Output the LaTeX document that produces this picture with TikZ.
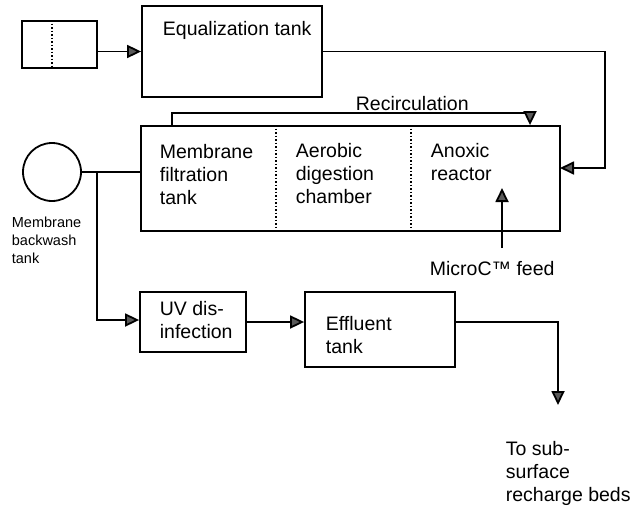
\documentclass[tikz,border=0pt]{standalone}
\usepackage{fontspec}
\setmainfont{Liberation Sans}
\usetikzlibrary{arrows.meta}
\begin{document}
\begin{tikzpicture}[x=1pt,y=-1pt,
  line width=1.8pt,
  box/.style={draw, rectangle, inner sep=0pt},
  lbl/.style={anchor=north west, inner sep=0pt, align=left, font=\fontsize{19.5}{23}\selectfont},
  smalllbl/.style={anchor=north west, inner sep=0pt, align=left, font=\fontsize{14.5}{18}\selectfont},
  arr/.style={-{Triangle[length=14pt,width=13pt,fill=black!65]}},
  divider/.style={dotted, line width=1.5pt}]
\useasboundingbox (0,0) rectangle (639,508);
% boxes
\node[box, minimum width=75pt, minimum height=47pt] (small) at (59.5,44.5) {};
\node[box, minimum width=180pt, minimum height=91pt] (eq) at (232,51.5) {};
\node[box, minimum width=419pt, minimum height=105pt] (main) at (350.5,178.5) {};
\node[box, minimum width=106pt, minimum height=60pt] (uv) at (193,322) {};
\node[box, minimum width=150pt, minimum height=75pt] (eff) at (380,329.5) {};
\node[draw, circle, minimum size=58pt, inner sep=0pt] (bw) at (52,172) {};
% dividers
\draw[divider] (small.north -| 52,0) -- (small.south -| 52,0);
\draw[divider] (main.north -| 276,0) -- (main.south -| 276,0);
\draw[divider] (main.north -| 411,0) -- (main.south -| 411,0);
% labels (north = baseline - 14.2)
\node[lbl] (eqt) at (162,20.8) {Equalization tank};
\node[lbl] (mft) at (159,143.8) {Membrane\\filtration\\tank};
\node[lbl] (adc) at (295,142.8) {Aerobic\\digestion\\chamber};
\node[lbl] (anr) at (430,142.8) {Anoxic\\reactor};
\node[lbl] (rcl) at (355,95.8) {Recirculation};
\node[lbl] (mcf) at (429,260.8) {MicroC™ feed};
\node[lbl] (uvt) at (159,300.8) {UV dis-\\infection};
\node[lbl] (eft) at (325,315.8) {Effluent\\tank};
\node[lbl] (tsb) at (505,440.8) {To sub-\\surface\\recharge beds};
\node[smalllbl] (bwt) at (11,216.5) {Membrane\\backwash\\tank};
% coordinates
\coordinate (rc1) at (172,113);
\coordinate (rc2) at (530,113);
\coordinate (er) at (605,50);
\coordinate (ein) at (560,168);
\coordinate (bj) at (97,320);
\coordinate (feedstart) at (502,248);
\coordinate (feedend) at (502,188);
\coordinate (outturn) at (558,322);
\coordinate (outend) at (558,405);
% connectors
\draw[arr] (small.east |- eq.west) -- (eq.west);
\draw[arr] (eq.east) -- (eq.east -| er) -- (er |- ein) -- (ein);
\draw[arr] (rc1 |- main.north) -- (rc1) -- (rc2) -- (rc2 |- main.north);
\draw (bw.east) -- (bw.east -| main.west);
\draw[arr] (bw.east -| bj) -- (bj) -- (bj -| uv.west);
\draw[arr] (uv.east) -- (uv.east -| eff.west);
\draw[arr] (feedstart) -- (feedend);
\draw[arr] (outturn -| eff.east) -- (outturn) -- (outend);
\end{tikzpicture}
\end{document}
